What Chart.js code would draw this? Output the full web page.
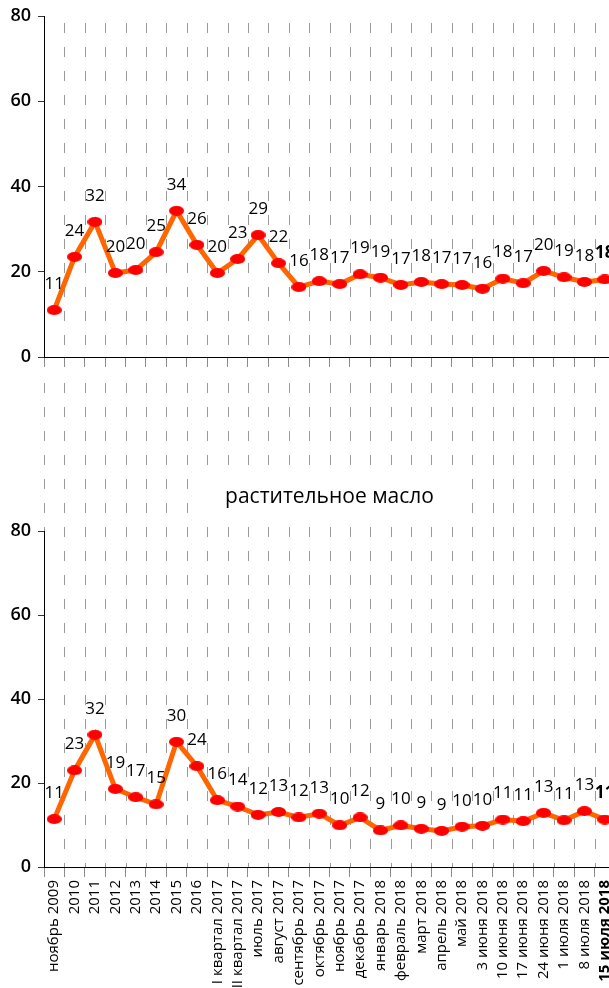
<!DOCTYPE html>
<html lang="ru">
<head>
<meta charset="utf-8">
<title>Chart</title>
<script src="https://cdn.jsdelivr.net/npm/chart.js@4.4.1/dist/chart.umd.min.js"></script>
<style>
  html, body { margin: 0; padding: 0; background: #fff; }
  body { width: 609px; height: 988px; overflow: hidden; position: relative; }
  canvas { position: absolute; left: 0; }
  #chart-top { top: 0; }
  #chart-oil { top: 370px; }
</style>
</head>
<body>
<canvas id="chart-top" width="615" height="370"></canvas>
<canvas id="chart-oil" width="615" height="618"></canvas>
<script>
const LABELS = [
  "ноябрь 2009", "2010", "2011", "2012", "2013", "2014", "2015", "2016",
  "I квартал 2017", "II квартал 2017", "июль 2017", "август 2017",
  "сентябрь 2017", "октябрь 2017", "ноябрь 2017", "декабрь 2017",
  "январь 2018", "февраль 2018", "март 2018", "апрель 2018", "май 2018",
  "3 июня 2018", "10 июня 2018", "17 июня 2018", "24 июня 2018",
  "1 июля 2018", "8 июля 2018", "15 июля 2018",
];

const TOP_VALUES = [
  11.0, 23.5, 31.7, 19.7, 20.4, 24.6, 34.3, 26.3, 19.7, 23.0, 28.6, 22.0,
  16.4, 17.8, 17.1, 19.4, 18.6, 16.9, 17.6, 17.1, 16.9, 16.0, 18.4, 17.3,
  20.2, 18.7, 17.6, 18.2,
];

const OIL_VALUES = [
  11.4, 23.0, 31.5, 18.6, 16.6, 14.9, 29.8, 24.0, 15.9, 14.4, 12.4, 13.1,
  11.8, 12.7, 9.9, 11.8, 8.7, 9.9, 9.1, 8.6, 9.6, 9.8, 11.3, 10.9,
  12.9, 11.1, 13.3, 11.3,
];

const Y_TICKS = [0, 20, 40, 60, 80];
const OIL_TITLE = "растительное масло";

const FONT = "'Open Sans', 'Noto Sans', sans-serif";
const LINE_COLOR = "#ff6600";
const POINT_COLOR = "#ff0000";

function makeMarker(w, h, color) {
  const c = document.createElement("canvas");
  c.width = w;
  c.height = h;
  const g = c.getContext("2d");
  g.fillStyle = color;
  g.beginPath();
  g.ellipse(w / 2, h / 2, w / 2, h / 2, 0, 0, Math.PI * 2);
  g.fill();
  return c;
}

const marker = makeMarker(15, 10, POINT_COLOR);

// dashed vertical lines between categories, plus the title block
const dashedGrid = {
  id: "dashedGrid",
  beforeDraw(chart, args, opts) {
    const x = chart.scales.x;
    const { top, bottom, left, right } = chart.chartArea;
    const step = x.getPixelForValue(1) - x.getPixelForValue(0);
    const ctx = chart.ctx;
    const y0 = opts.fromCanvasTop ? 0 : top;
    ctx.save();
    ctx.strokeStyle = "#9a9a9a";
    ctx.lineWidth = 1;
    ctx.setLineDash([10, 14]);
    ctx.lineDashOffset = opts.dashOffset;
    for (let i = 0; i <= chart.data.labels.length; i++) {
      const px = Math.round(x.getPixelForValue(i) - step / 2) + 0.5;
      ctx.beginPath();
      ctx.moveTo(px, y0);
      ctx.lineTo(px, bottom);
      ctx.stroke();
    }
    ctx.restore();

    if (opts.title) {
      ctx.save();
      ctx.font = `500 21px ${FONT}`;
      const cx = (left + right) / 2;
      const w = ctx.measureText(opts.title).width;
      ctx.fillStyle = "#fff";
      ctx.fillRect(cx - w / 2 - 22, opts.titleY - 22, w + 44, 44);
      ctx.fillStyle = "#000";
      ctx.textAlign = "center";
      ctx.textBaseline = "middle";
      ctx.fillText(opts.title, cx, opts.titleY);
      ctx.restore();
    }
  },
};

const valueLabels = {
  id: "valueLabels",
  afterDatasetsDraw(chart) {
    const ctx = chart.ctx;
    const meta = chart.getDatasetMeta(0);
    const data = chart.data.datasets[0].data;
    ctx.save();
    ctx.fillStyle = "#000";
    ctx.textAlign = "center";
    ctx.textBaseline = "middle";
    meta.data.forEach((pt, i) => {
      const last = i === data.length - 1;
      ctx.font = `${last ? "bold " : ""}17px ${FONT}`;
      ctx.fillText(String(Math.round(data[i])), pt.x, pt.y - 26);
    });
    ctx.restore();
  },
};

function buildChart(id, values, cfg) {
  const lastIdx = LABELS.length - 1;
  return new Chart(document.getElementById(id), {
    type: "line",
    data: {
      labels: LABELS,
      datasets: [{
        data: values,
        borderColor: LINE_COLOR,
        borderWidth: 5,
        pointStyle: marker,
        pointRadius: 6,
        tension: 0,
      }],
    },
    options: {
      responsive: false,
      animation: false,
      events: [],
      layout: { autoPadding: false, padding: { top: cfg.padTop, left: 0, right: 0, bottom: 0 } },
      plugins: {
        legend: { display: false },
        tooltip: { enabled: false },
        dashedGrid: cfg.grid,
      },
      scales: {
        x: {
          offset: true,
          grid: {
            offset: true,
            drawOnChartArea: false,
            drawTicks: true,
            tickLength: 10,
            color: "#8a8a8a",
          },
          border: { color: "#000", width: 1 },
          ticks: {
            display: cfg.showLabels,
            autoSkip: false,
            minRotation: 90,
            maxRotation: 90,
            padding: 3,
            color: "#000",
            font: (c) => ({
              family: FONT,
              size: 15,
              weight: c.index === lastIdx ? "bold" : "normal",
            }),
          },
          afterFit: (s) => {
            s.height = cfg.xHeight;
            s.paddingLeft = 0;
            s.paddingRight = 0;
          },
        },
        y: {
          min: Y_TICKS[0],
          max: Y_TICKS[Y_TICKS.length - 1],
          afterBuildTicks: (s) => { s.ticks = Y_TICKS.map((v) => ({ value: v })); },
          ticks: {
            padding: 7,
            color: "#000",
            font: { family: FONT, size: 18, weight: "600" },
          },
          grid: {
            drawOnChartArea: false,
            drawTicks: true,
            tickLength: 6,
            color: "#333",
          },
          border: { color: "#000", width: 1 },
          afterFit: (s) => {
            s.width = 44;
            s.paddingTop = 0;
            s.paddingBottom = 0;
          },
        },
      },
    },
    plugins: [dashedGrid, valueLabels],
  });
}

buildChart("chart-top", TOP_VALUES, {
  padTop: 16,
  xHeight: 13,
  showLabels: false,
  grid: { fromCanvasTop: false, dashOffset: 17 },
});

buildChart("chart-oil", OIL_VALUES, {
  padTop: 161,
  xHeight: 121,
  showLabels: true,
  grid: { fromCanvasTop: true, dashOffset: 11, title: OIL_TITLE, titleY: 127 },
});
</script>
</body>
</html>
